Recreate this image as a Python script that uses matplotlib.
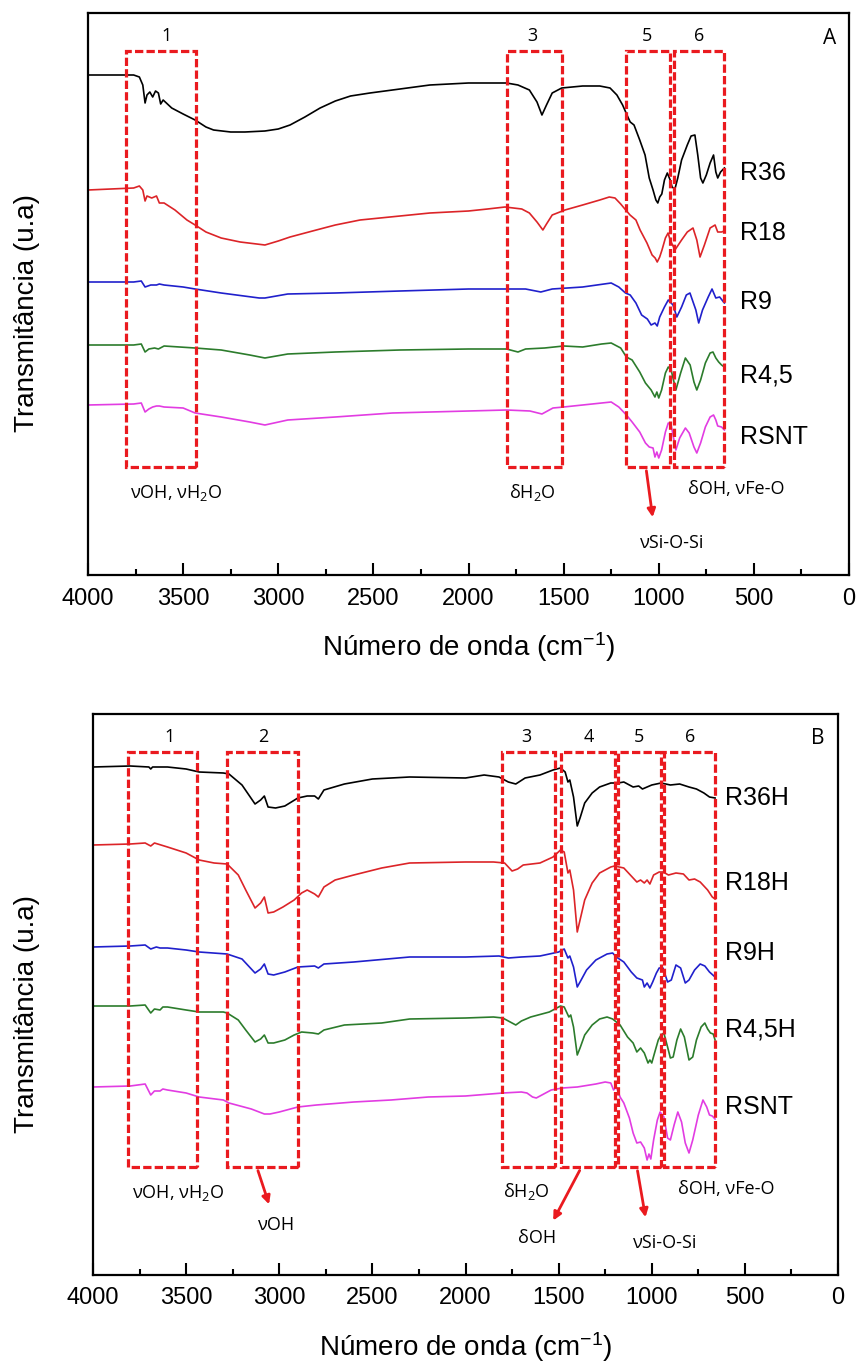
import numpy as np
import matplotlib
matplotlib.use("Agg")
import matplotlib.pyplot as plt
from matplotlib.patches import Rectangle

plt.rcParams['font.family'] = ['Liberation Sans', 'DejaVu Sans']
plt.rcParams['mathtext.default'] = 'regular'

# ---- spectra, panel A (wavenumber cm-1, transmittance a.u.) ----
r36 = [(4000, 500), (3760, 500), (3730, 498), (3712, 490), (3700, 472), (3690, 480), (3675, 483),
       (3660, 478), (3645, 484), (3630, 482), (3618, 471), (3605, 475), (3560, 467), (3500, 461),
       (3437, 455), (3380, 448), (3340, 445), (3250, 443), (3175, 443), (3070, 444), (3000, 446),
       (2938, 450), (2860, 458), (2780, 467), (2700, 474), (2620, 479), (2518, 482), (2360, 486),
       (2203, 490), (2000, 492), (1800, 492), (1740, 490), (1680, 485), (1640, 473), (1614, 460),
       (1590, 470), (1560, 482), (1510, 487), (1400, 489), (1310, 489), (1256, 487), (1220, 480),
       (1190, 470), (1160, 457), (1150, 453), (1130, 450), (1100, 435), (1072, 420), (1050, 397),
       (1030, 385), (1015, 375), (1005, 372), (995, 378), (984, 381), (970, 395), (955, 402),
       (940, 395), (930, 388), (915, 386), (900, 397), (880, 415), (850, 430), (830, 439),
       (810, 440), (795, 420), (780, 397), (768, 392), (750, 400), (730, 412), (712, 420),
       (700, 403), (690, 397), (675, 403), (655, 407)]
r18 = [(4000, 385), (3760, 387), (3730, 389), (3712, 385), (3700, 374), (3690, 379), (3665, 377),
       (3640, 379), (3625, 372), (3600, 372), (3543, 365), (3480, 355), (3437, 350), (3380, 343),
       (3300, 337), (3200, 333), (3070, 330), (3000, 334), (2938, 338), (2800, 345), (2700, 350),
       (2570, 355), (2360, 359), (2203, 362), (2000, 364), (1900, 366), (1808, 368), (1720, 366),
       (1680, 362), (1640, 353), (1609, 345), (1590, 351), (1560, 360), (1493, 365), (1400, 370),
       (1310, 375), (1260, 378), (1230, 377), (1200, 371), (1178, 366), (1151, 360), (1120, 355),
       (1098, 345), (1062, 332), (1035, 320), (1019, 317), (1008, 313), (995, 318), (983, 325),
       (965, 337), (951, 342), (940, 335), (915, 325), (880, 335), (850, 343), (820, 347),
       (800, 335), (783, 318), (760, 330), (730, 347), (704, 350), (690, 343), (670, 343),
       (655, 344)]
r9 = [(4000, 293), (3760, 293), (3720, 294), (3700, 288), (3670, 290), (3640, 290), (3625, 291),
      (3600, 290), (3500, 288), (3437, 286), (3300, 282), (3100, 277), (3070, 277), (2950, 281),
      (2700, 282), (2360, 284), (2000, 286), (1800, 286), (1700, 286), (1620, 283), (1560, 286),
      (1400, 288), (1250, 292), (1210, 288), (1175, 282), (1150, 280), (1120, 272), (1090, 260),
      (1060, 256), (1040, 250), (1020, 252), (1008, 249), (995, 258), (970, 268), (950, 275),
      (925, 270), (905, 258), (880, 268), (855, 280), (836, 282), (805, 265), (790, 252),
      (770, 265), (740, 278), (720, 286), (700, 277), (680, 278), (655, 272)]
r45 = [(4000, 230), (3760, 230), (3720, 231), (3700, 223), (3680, 226), (3650, 227), (3630, 226),
       (3600, 229), (3437, 227), (3300, 225), (3150, 220), (3070, 217), (2950, 221), (2700, 223),
       (2360, 225), (2000, 226), (1800, 226), (1740, 223), (1700, 226), (1600, 227), (1500, 229),
       (1400, 228), (1300, 231), (1250, 232), (1200, 227), (1170, 218), (1140, 215), (1100, 203),
       (1070, 192), (1040, 185), (1020, 178), (1010, 183), (1000, 177), (985, 185), (965, 202),
       (950, 208), (935, 205), (910, 185), (885, 202), (860, 217), (835, 210), (815, 193),
       (800, 185), (780, 195), (755, 212), (730, 222), (715, 223), (700, 217), (685, 213),
       (670, 210), (655, 208)]
rsnt_a = [(4000, 170), (3760, 171), (3720, 172), (3700, 163), (3680, 166), (3660, 168), (3640, 169),
          (3625, 169), (3600, 168), (3500, 167), (3437, 162), (3300, 158), (3150, 153), (3070, 150),
          (2950, 155), (2700, 158), (2400, 162), (2000, 164), (1800, 165), (1677, 164), (1614, 161),
          (1556, 167), (1500, 168), (1300, 172), (1250, 173), (1210, 168), (1170, 160), (1140, 153),
          (1100, 143), (1070, 132), (1050, 128), (1030, 127), (1020, 118), (1010, 123), (1000, 117),
          (985, 125), (965, 143), (950, 152), (935, 150), (910, 125), (890, 137), (860, 147),
          (840, 142), (815, 128), (800, 122), (780, 132), (755, 148), (730, 158), (712, 160),
          (700, 155), (690, 149), (670, 148), (655, 145)]

# ---- spectra, panel B ----
r36h = [(4000, 508), (3800, 509), (3700, 508), (3690, 506), (3680, 508), (3600, 508), (3500, 506),
        (3430, 503), (3300, 502), (3270, 501), (3200, 490), (3130, 471), (3100, 475), (3080, 479),
        (3060, 468), (3020, 467), (2970, 469), (2900, 477), (2850, 479), (2810, 479), (2790, 476),
        (2760, 485), (2650, 491), (2500, 496), (2300, 498), (2000, 497), (1900, 500), (1820, 498),
        (1770, 493), (1730, 491), (1680, 497), (1600, 500), (1530, 505), (1490, 507), (1465, 503),
        (1450, 493), (1440, 495), (1420, 478), (1400, 449), (1385, 457), (1360, 472), (1320, 482),
        (1280, 488), (1220, 492), (1180, 492), (1150, 493), (1100, 488), (1070, 489), (1050, 486),
        (1000, 490), (950, 492), (900, 490), (850, 491), (800, 488), (760, 486), (720, 482),
        (690, 478), (660, 477)]
r18h = [(4000, 430), (3800, 431), (3720, 432), (3690, 429), (3670, 432), (3600, 428), (3500, 422),
        (3430, 415), (3350, 412), (3280, 411), (3220, 400), (3180, 385), (3130, 367), (3100, 372),
        (3080, 378), (3060, 362), (3030, 363), (2980, 368), (2920, 375), (2880, 382), (2850, 385),
        (2810, 381), (2790, 378), (2760, 388), (2700, 395), (2600, 400), (2450, 407), (2300, 412),
        (2000, 413), (1850, 413), (1790, 412), (1750, 404), (1720, 406), (1690, 410), (1600, 412),
        (1530, 418), (1490, 425), (1470, 423), (1450, 402), (1440, 405), (1420, 385), (1400, 343),
        (1385, 355), (1360, 375), (1320, 392), (1280, 402), (1220, 408), (1200, 409), (1150, 407),
        (1100, 397), (1080, 393), (1060, 395), (1040, 392), (1025, 395), (1010, 391), (990, 400),
        (960, 403), (940, 403), (910, 400), (870, 402), (830, 401), (800, 395), (770, 396),
        (740, 393), (700, 385), (675, 378), (660, 376)]
r9h = [(4000, 328), (3800, 329), (3720, 330), (3690, 326), (3660, 328), (3640, 327), (3600, 327),
       (3500, 325), (3430, 323), (3280, 321), (3200, 316), (3130, 302), (3100, 306), (3080, 311),
       (3060, 301), (3030, 300), (2970, 303), (2900, 308), (2810, 309), (2790, 307), (2760, 311),
       (2600, 313), (2300, 318), (2000, 318), (1820, 319), (1770, 317), (1700, 318), (1600, 319),
       (1500, 323), (1470, 326), (1450, 317), (1440, 319), (1420, 308), (1400, 288), (1385, 293),
       (1350, 305), (1300, 315), (1240, 321), (1210, 322), (1190, 318), (1150, 313), (1110, 303),
       (1080, 297), (1050, 295), (1040, 288), (1025, 292), (1010, 287), (995, 293), (975, 302),
       (960, 307), (940, 307), (915, 293), (895, 295), (870, 310), (845, 307), (820, 292),
       (800, 295), (770, 305), (740, 311), (715, 309), (690, 303), (660, 298)]
r45h = [(4000, 269), (3800, 269), (3720, 270), (3690, 262), (3670, 266), (3640, 265), (3625, 268),
        (3600, 268), (3500, 265), (3430, 263), (3300, 263), (3280, 262), (3220, 255), (3180, 245),
        (3130, 233), (3100, 236), (3080, 240), (3060, 232), (3030, 232), (2970, 235), (2920, 240),
        (2880, 243), (2820, 242), (2790, 241), (2760, 245), (2650, 250), (2450, 252), (2300, 256),
        (2000, 257), (1850, 258), (1800, 257), (1760, 253), (1730, 250), (1700, 254), (1650, 258),
        (1550, 263), (1490, 269), (1470, 268), (1455, 262), (1445, 258), (1435, 260), (1420, 248),
        (1400, 220), (1385, 227), (1360, 240), (1320, 250), (1280, 256), (1240, 258), (1210, 256),
        (1190, 253), (1170, 250), (1130, 238), (1100, 232), (1080, 223), (1060, 227), (1040, 222),
        (1020, 212), (1010, 215), (1000, 212), (985, 222), (965, 235), (950, 240), (935, 242),
        (915, 228), (900, 217), (885, 218), (865, 235), (845, 246), (825, 238), (800, 215),
        (780, 218), (760, 235), (735, 248), (715, 252), (700, 246), (685, 242), (670, 241),
        (660, 235)]
rsnt_b = [(4000, 188), (3800, 189), (3720, 191), (3690, 180), (3670, 184), (3640, 184), (3625, 186),
          (3600, 185), (3500, 182), (3430, 178), (3300, 175), (3270, 172), (3150, 166), (3080, 161),
          (3050, 161), (3000, 163), (2900, 168), (2800, 170), (2600, 173), (2400, 175), (2200, 178),
          (2000, 179), (1800, 182), (1700, 183), (1670, 182), (1640, 178), (1620, 177), (1590, 180),
          (1540, 185), (1480, 187), (1400, 188), (1300, 191), (1250, 193), (1220, 192), (1205, 185),
          (1190, 188), (1170, 178), (1150, 172), (1120, 157), (1100, 142), (1080, 132), (1060, 133),
          (1040, 127), (1025, 115), (1015, 121), (1005, 116), (990, 135), (970, 155), (955, 163),
          (935, 158), (915, 137), (900, 135), (880, 150), (860, 163), (840, 153), (820, 132),
          (800, 122), (780, 135), (750, 160), (725, 175), (705, 168), (690, 160), (675, 159),
          (660, 156)]

names_a = ['R36', 'R18', 'R9', 'R4,5', 'RSNT']
names_b = ['R36H', 'R18H', 'R9H', 'R4,5H', 'RSNT']
colors = ['#000000', '#dc2428', '#2020cc', '#2c7c2c', '#e23ce2']
label_t_a = [402, 342, 273, 200, 138]
label_t_b = [477, 392, 322, 245, 168]

# band boxes (wavenumber ranges) and their numbers
boxes_a = [(3800, 3430, '1'), (1800, 1510, '3'), (1170, 940, '5'), (918, 655, '6')]
boxes_b = [(3810, 3440, '1'), (3280, 2900, '2'), (1805, 1518, '3'), (1487, 1197, '4'),
           (1181, 950, '5'), (935, 661, '6')]
num_x_a = [3585, 1666, 1062, 788]
num_x_b = [3587, 3087, 1675, 1337, 1068, 795]

BOX_RED = '#ea1a1f'
ann_font = ['Open Sans', 'DejaVu Sans']
ANN = 13

fig = plt.figure(figsize=(8.59, 13.64), dpi=100)
axA = fig.add_axes([88 / 859, 1 - 575 / 1364, 761 / 859, 562 / 1364])
axB = fig.add_axes([93 / 859, 1 - 1275 / 1364, 745 / 859, 561 / 1364])


def style_axis(ax, ytop):
    ax.set_xlim(4000, 0)
    ax.set_ylim(0, ytop)
    ax.set_xticks(np.arange(0, 4001, 500))
    ax.set_xticks(np.arange(250, 4000, 500), minor=True)
    ax.set_yticks([])
    ax.tick_params(axis='x', which='major', direction='in', length=9, width=1.5,
                   labelsize=17, pad=9)
    ax.tick_params(axis='x', which='minor', direction='in', length=4.5, width=1.5)
    for s in ax.spines.values():
        s.set_linewidth(1.6)
    ax.set_xlabel('Número de onda (cm$^{-1}$)', fontsize=20, labelpad=15)


def draw_box(ax, x1, x2, y1, y2):
    r = Rectangle((x2, y1), x1 - x2, y2 - y1, fill=False, edgecolor=BOX_RED,
                  linewidth=2.3, linestyle=(0, (2.6, 1.0)), zorder=5)
    ax.add_patch(r)


# panel A
for data, name, c, lt in zip([r36, r18, r9, r45, rsnt_a], names_a, colors, label_t_a):
    wn, t = zip(*data)
    axA.plot(wn, t, color=c, linewidth=1.2)
    axA.text(573, lt, name, fontsize=18, ha='left', va='center')
for (x1, x2, num), nx in zip(boxes_a, num_x_a):
    draw_box(axA, x1, x2, 108, 524)
    axA.text(nx, 539, num, fontsize=ANN, ha='center', va='center', family=ann_font)
style_axis(axA, 562)
axA.text(100, 537, 'A', fontsize=15, ha='center', va='center', family=ann_font)
axA.text(3537, 82, 'νOH, νH$_2$O', fontsize=ANN, ha='center', va='center', family=ann_font)
axA.text(1666, 83, 'δH$_2$O', fontsize=ANN, ha='center', va='center', family=ann_font)
axA.text(594, 86, 'δOH, νFe-O', fontsize=ANN, ha='center', va='center', family=ann_font)
axA.text(930, 32, 'νSi-O-Si', fontsize=ANN, ha='center', va='center', family=ann_font)
axA.annotate('', xy=(1030, 55), xytext=(1067, 107),
             arrowprops=dict(arrowstyle='-|>', color=BOX_RED, lw=2, mutation_scale=12))

# panel B
for data, name, c, lt in zip([r36h, r18h, r9h, r45h, rsnt_b], names_b, colors, label_t_b):
    wn, t = zip(*data)
    axB.plot(wn, t, color=c, linewidth=1.2)
    axB.text(607, lt, name, fontsize=18, ha='left', va='center')
for (x1, x2, num), nx in zip(boxes_b, num_x_b):
    draw_box(axB, x1, x2, 108, 523)
    axB.text(nx, 538, num, fontsize=ANN, ha='center', va='center', family=ann_font)
style_axis(axB, 561)
axB.text(107, 536, 'B', fontsize=15, ha='center', va='center', family=ann_font)
axB.text(3544, 82, 'νOH, νH$_2$O', fontsize=ANN, ha='center', va='center', family=ann_font)
axB.text(3017, 50, 'νOH', fontsize=ANN, ha='center', va='center', family=ann_font)
axB.text(1675, 84, 'δH$_2$O', fontsize=ANN, ha='center', va='center', family=ann_font)
axB.text(1616, 37, 'δOH', fontsize=ANN, ha='center', va='center', family=ann_font)
axB.text(929, 32, 'νSi-O-Si', fontsize=ANN, ha='center', va='center', family=ann_font)
axB.text(602, 86, 'δOH, νFe-O', fontsize=ANN, ha='center', va='center', family=ann_font)
for start, end in [((3119, 107), (3050, 68)), ((1380, 107), (1536, 52)),
                   ((1079, 107), (1031, 55))]:
    axB.annotate('', xy=end, xytext=start,
                 arrowprops=dict(arrowstyle='-|>', color=BOX_RED, lw=2, mutation_scale=12))

fig.text(27 / 859, 1 - 313 / 1364, 'Transmitância (u.a)', rotation=90, fontsize=20,
         ha='center', va='center')
fig.text(27 / 859, 1 - 1014 / 1364, 'Transmitância (u.a)', rotation=90, fontsize=20,
         ha='center', va='center')

fig.savefig('out.png', dpi=100)
